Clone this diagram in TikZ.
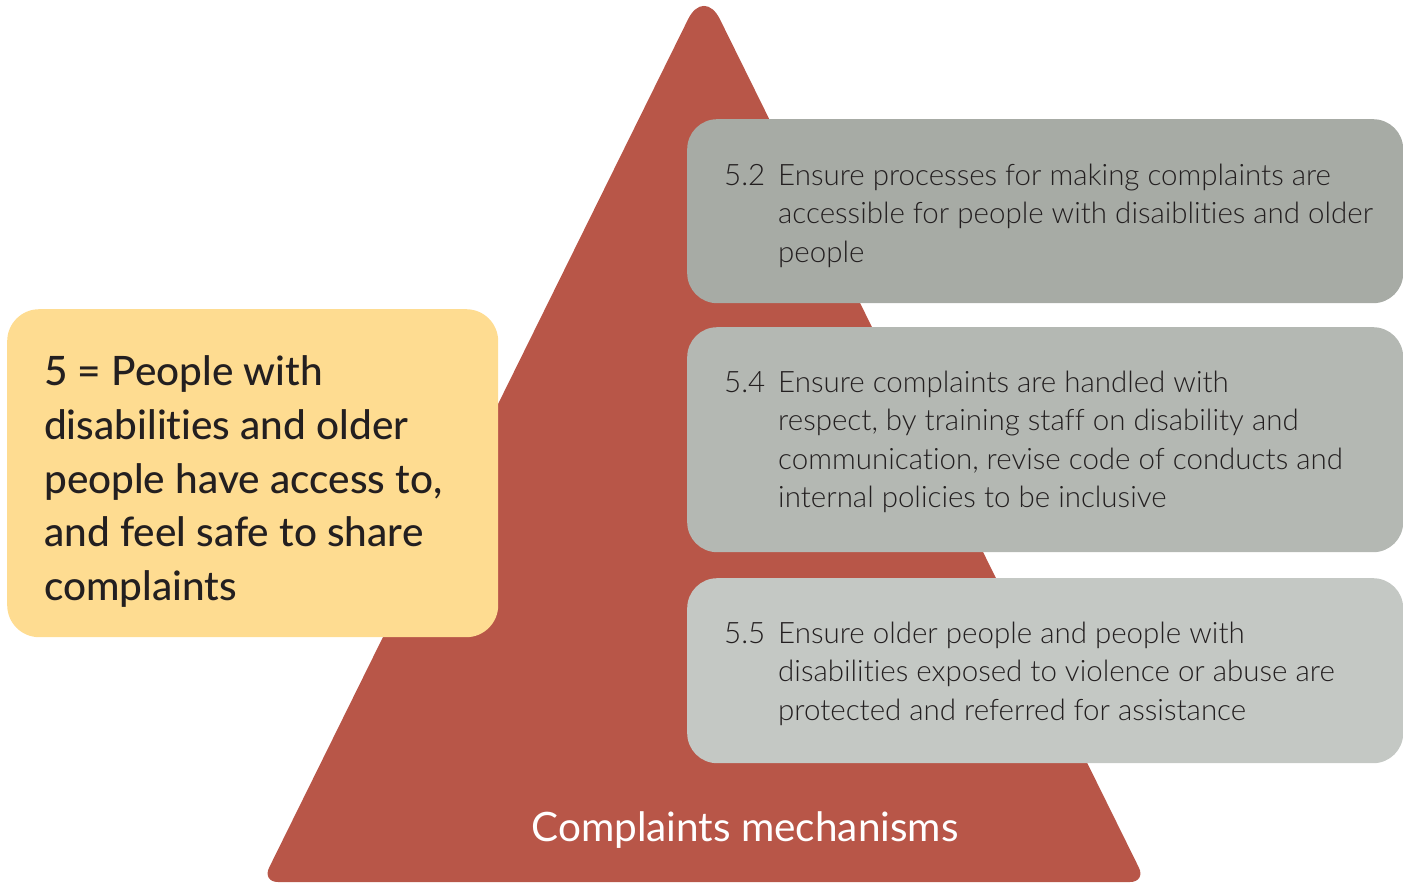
\documentclass[tikz,border=0pt]{standalone}
\usepackage{fontspec}
\setmainfont{Lato}[Ligatures=NoCommon]
\newfontfamily\lightfont{Lato Light}[Ligatures=NoCommon]
\newfontfamily\medfont{Lato Medium}[Ligatures=NoCommon]
\definecolor{tri}{HTML}{B85648}
\definecolor{gA}{HTML}{A7ABA5}
\definecolor{gB}{HTML}{B4B8B3}
\definecolor{gC}{HTML}{C4C8C4}
\definecolor{ylw}{HTML}{FEDC91}
\definecolor{ink}{HTML}{231F20}
\tikzset{
  graybox/.style={rounded corners=30, minimum width=716, minimum height=#1, anchor=north west, inner sep=0},
  numtxt/.style={anchor=north west, inner sep=0, text=ink, font=\lightfont\fontsize{29.5}{38.5}\selectfont},
  bodytxt/.style={anchor=north west, inner sep=0, text=ink, align=left, font=\lightfont\fontsize{29.5}{38.5}\selectfont},
}
\begin{document}
\begin{tikzpicture}[x=1pt,y=-1pt]
\useasboundingbox (0,0) rectangle (1403,883);
\fill[tri] (704,882) [rounded corners=16] -- (262,882) [rounded corners=36] -- (704,-13) [rounded corners=16] -- (1146,882) -- cycle;
% yellow box
\node[fill=ylw, rounded corners=32, minimum width=491, minimum height=328, anchor=north west, inner sep=0] (goal) at (7,309) {};
\node[anchor=north west, inner sep=0, text=ink, align=left, font=\medfont\fontsize{40.5}{53.7}\selectfont] (goaltxt) at (44,348)
 {\strut 5 = People with\\disabilities and older\\people have access to,\\and feel safe to share\\complaints};
% gray boxes
\node[graybox=184, fill=gA] (b52) at (687,119) {};
\node[graybox=225, fill=gB] (b54) at (687,327) {};
\node[graybox=185, fill=gC] (b55) at (687,578) {};
\node[numtxt] (n52) at (724,158) {\strut 5.2};
\node[bodytxt] (t52) at (778,158) {\strut Ensure processes for making complaints are\\accessible for people with disaiblities and older\\people};
\node[numtxt] (n54) at (724,365) {\strut 5.4};
\node[bodytxt] (t54) at (778,365) {\strut Ensure complaints are handled with\\respect, by training staff on disability and\\communication, revise code of conducts and\\internal policies to be inclusive};
\node[numtxt] (n55) at (724,616) {\strut 5.5};
\node[bodytxt] (t55) at (778,616) {\strut Ensure older people and people with\\disabilities exposed to violence or abuse are\\protected and referred for assistance};
\node[text=white, font=\fontsize{40.5}{46}\selectfont, inner sep=0] (lbl) at (745,830) {Complaints mechanisms};
\end{tikzpicture}
\end{document}
